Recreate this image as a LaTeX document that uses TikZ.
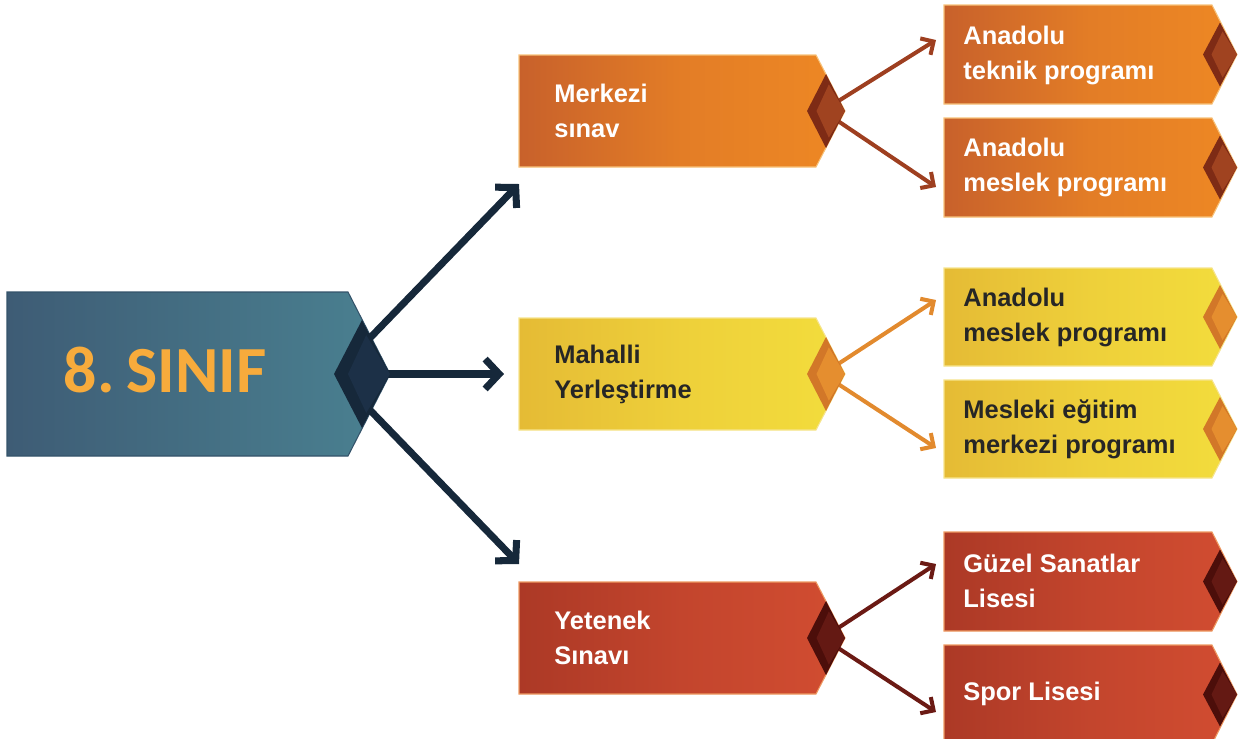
\documentclass[tikz,border=0pt]{standalone}
\usepackage{fontspec}
\setmainfont{Liberation Sans}
\newfontfamily\titlefont{Carlito}
\usetikzlibrary{arrows.meta}
\definecolor{navy}{HTML}{16283A}
\definecolor{navyL}{HTML}{1C3047}
\definecolor{mainL}{HTML}{3E5C75}
\definecolor{mainR}{HTML}{4A8191}
\definecolor{mainB}{HTML}{34536A}
\definecolor{titleC}{HTML}{F7AB3C}
\definecolor{orL}{HTML}{C8612B}
\definecolor{orM}{HTML}{E37D26}
\definecolor{orR}{HTML}{EE8824}
\definecolor{orB}{HTML}{F7C27A}
\definecolor{orD}{HTML}{7E2B15}
\definecolor{orDL}{HTML}{A04320}
\definecolor{orA}{HTML}{9E3F20}
\definecolor{yeL}{HTML}{E5BB35}
\definecolor{yeM}{HTML}{EED03A}
\definecolor{yeR}{HTML}{F3DD3C}
\definecolor{yeB}{HTML}{F6E48C}
\definecolor{yeD}{HTML}{D27728}
\definecolor{yeDL}{HTML}{E58E2F}
\definecolor{yeA}{HTML}{E28A2E}
\definecolor{reL}{HTML}{AC3926}
\definecolor{reM}{HTML}{C3452D}
\definecolor{reR}{HTML}{D24D31}
\definecolor{reB}{HTML}{EE9A62}
\definecolor{reD}{HTML}{4C0E0A}
\definecolor{reDL}{HTML}{641913}
\definecolor{reA}{HTML}{6B1A14}
\definecolor{txtdark}{HTML}{262626}
\newcommand\chevpath[6]{%
  \path[#6] (#1,#2) -- (#4,#2) -- (#5,{(#2+#3)/2}) -- (#4,#3) -- (#1,#3) -- cycle;}
\newcommand\gem[6]{%
  \fill[#5] ({#1-#3},#2) -- (#1,{#2-#4}) -- ({#1+#3},#2) -- (#1,{#2+#4}) -- cycle;
  \fill[#6] ({#1-0.5*#3},#2) -- ({#1+0.15*#3},{#2-0.72*#4}) -- ({#1+#3},#2) -- ({#1+0.15*#3},{#2+0.72*#4}) -- cycle;}
\tikzset{
  boxtext/.style={anchor=west, align=left, inner sep=0pt,
    font=\bfseries\fontsize{14.5pt}{19.9pt}\selectfont},
  wtext/.style={boxtext, text=white},
  dtext/.style={boxtext, text=txtdark},
  orbox/.style={left color=orL, right color=orR, middle color=orM, draw=orB, line width=0.6pt},
  yebox/.style={left color=yeL, right color=yeR, middle color=yeM, draw=yeB, line width=0.6pt},
  rebox/.style={left color=reL, right color=reR, middle color=reM, draw=reB, line width=0.6pt},
  mainbox/.style={left color=mainL, right color=mainR, draw=mainB, line width=0.6pt},
  mainarrow/.style={draw=navy, line width=4pt, -{Straight Barb[length=8pt,width=17pt]}},
  subarrow/.style={line width=2.3pt, -{Straight Barb[length=5.5pt,width=11pt]}},
}
\begin{document}
\begin{tikzpicture}[x=0.02cm,y=-0.02cm]
\useasboundingbox (0,0) rectangle (1240,738);
\begin{scope}
\clip (0,0) rectangle (1240,738);
% boxes
\chevpath{7}{292}{456}{348}{390}{mainbox}
\chevpath{519}{55}{167}{816}{845}{orbox}
\chevpath{519}{318}{430}{816}{845}{yebox}
\chevpath{519}{582}{694}{816}{845}{rebox}
\chevpath{944}{5}{104}{1212}{1237}{orbox}
\chevpath{944}{118}{217}{1212}{1237}{orbox}
\chevpath{944}{268}{366}{1212}{1237}{yebox}
\chevpath{944}{380}{478}{1212}{1237}{yebox}
\chevpath{944}{532}{631}{1212}{1237}{rebox}
\chevpath{944}{645}{744}{1212}{1237}{rebox}
% texts
\node[anchor=base, inner sep=0pt, text=titleC, font=\titlefont\bfseries\fontsize{37.5pt}{40pt}\selectfont] (main) at (165,392) {8.\hspace{0.18em}SINIF};
\node[wtext] (merk) at (554,111) {Merkezi\\sınav};
\node[dtext] (mah) at (554,374) {Mahalli\\Yerleştirme};
\node[wtext] (yet) at (554,638) {Yetenek\\Sınavı};
\node[wtext] (r1) at (963,55) {Anadolu\\teknik programı};
\node[wtext] (r2) at (963,167) {Anadolu\\meslek programı};
\node[dtext] (r3) at (963,317) {Anadolu\\meslek programı};
\node[dtext] (r4) at (963,429) {Mesleki eğitim\\merkezi programı};
\node[wtext] (r5) at (963,581) {Güzel Sanatlar\\Lisesi};
\node[wtext] (r6) at (963,694) {Spor Lisesi};
% connector coordinates
\coordinate (mainUp) at (368,340);
\coordinate (mainMid) at (372,374);
\coordinate (mainDn) at (368,408);
\coordinate (merkIn) at (519,184);
\coordinate (mahIn) at (504,374);
\coordinate (yetIn) at (519,564);
\coordinate (merkUp) at (832,105);
\coordinate (merkDn) at (832,117);
\coordinate (mahUp) at (832,368);
\coordinate (mahDn) at (832,380);
\coordinate (yetUp) at (832,632);
\coordinate (yetDn) at (832,644);
\coordinate (r1In) at (936,40);
\coordinate (r2In) at (936,187);
\coordinate (r3In) at (936,300);
\coordinate (r4In) at (936,448);
\coordinate (r5In) at (936,564);
\coordinate (r6In) at (936,712);
% arrows
\draw[mainarrow] (mainUp) -- (merkIn);
\draw[mainarrow] (mainMid) -- (mahIn);
\draw[mainarrow] (mainDn) -- (yetIn);
\draw[subarrow, draw=orA] (merkUp) -- (r1In);
\draw[subarrow, draw=orA] (merkDn) -- (r2In);
\draw[subarrow, draw=yeA] (mahUp) -- (r3In);
\draw[subarrow, draw=yeA] (mahDn) -- (r4In);
\draw[subarrow, draw=reA] (yetUp) -- (r5In);
\draw[subarrow, draw=reA] (yetDn) -- (r6In);
% gems
\gem{362}{374}{28}{54}{navy}{navyL}
\gem{826}{111}{19}{37}{orD}{orDL}
\gem{826}{374}{19}{37}{yeD}{yeDL}
\gem{826}{638}{19}{37}{reD}{reDL}
\gem{1220}{54.5}{17}{32}{orD}{orDL}
\gem{1220}{167.5}{17}{32}{orD}{orDL}
\gem{1220}{317}{17}{32}{yeD}{yeDL}
\gem{1220}{429}{17}{32}{yeD}{yeDL}
\gem{1220}{581.5}{17}{32}{reD}{reDL}
\gem{1220}{694.5}{17}{32}{reD}{reDL}
\end{scope}
\end{tikzpicture}
\end{document}
